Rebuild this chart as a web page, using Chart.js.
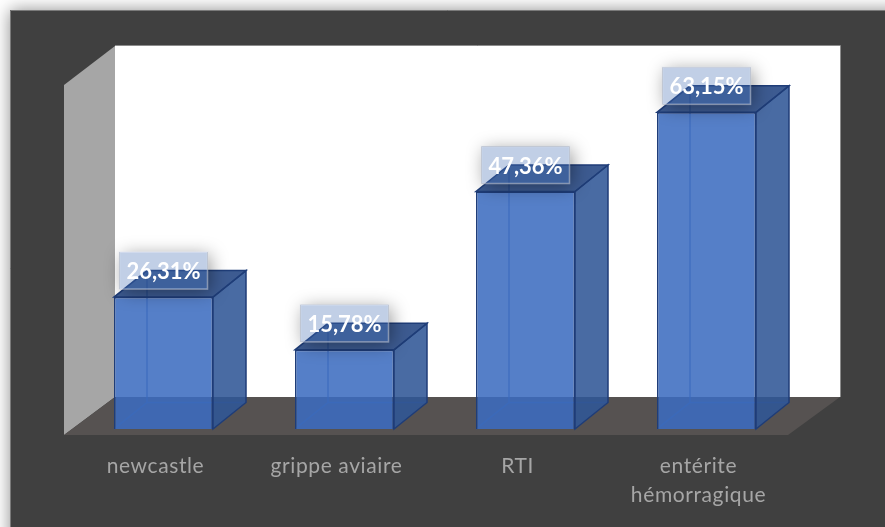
<!DOCTYPE html>
<html>
<head>
<meta charset="utf-8">
<title>Chart</title>
<style>
  html, body { margin: 0; padding: 0; background: #ffffff; overflow: hidden; }
  canvas { display: block; filter: blur(0.5px); }
</style>
</head>
<body>
<canvas id="chart" width="885" height="527"></canvas>
<script src="https://cdn.jsdelivr.net/npm/chart.js@4/dist/chart.umd.min.js"></script>
<script>
const categories = ['newcastle', 'grippe aviaire', 'RTI', ['entérite', 'hémorragique']];
const values = [26.31, 15.78, 47.36, 63.15];
const valueLabels = ['26,31%', '15,78%', '47,36%', '63,15%'];

// depth of the fake 3D
const depthX = 33;
const depthY = 26.5;

function polygon(ctx, pts, fill, stroke, lineWidth) {
  ctx.beginPath();
  pts.forEach((p, i) => i ? ctx.lineTo(p[0], p[1]) : ctx.moveTo(p[0], p[1]));
  ctx.closePath();
  if (fill) { ctx.fillStyle = fill; ctx.fill(); }
  if (stroke) { ctx.strokeStyle = stroke; ctx.lineWidth = lineWidth || 1; ctx.stroke(); }
}

// panel, walls and floor
const backdrop = {
  id: 'backdrop',
  beforeDraw(chart) {
    const ctx = chart.ctx;
    const a = chart.chartArea;
    ctx.save();
    ctx.fillStyle = '#ffffff';
    ctx.fillRect(0, 0, chart.width, chart.height);
    ctx.shadowColor = 'rgba(0,0,0,0.45)';
    ctx.shadowBlur = 16;
    ctx.fillStyle = '#404040';
    ctx.fillRect(10, 10, chart.width + 40, chart.height + 40);
    ctx.restore();

    ctx.save();
    ctx.strokeStyle = '#7a7a7a';
    ctx.lineWidth = 1;
    ctx.beginPath();
    ctx.moveTo(10.5, chart.height);
    ctx.lineTo(10.5, 10.5);
    ctx.lineTo(chart.width, 10.5);
    ctx.stroke();

    const wallL = a.left + 42, wallR = a.right + 43;
    const wallT = a.top - 32, wallB = a.bottom - 32;
    const frontL = a.left - 9, frontR = a.right - 9, frontB = a.bottom + 6;

    ctx.fillStyle = '#ffffff';
    ctx.fillRect(wallL, wallT, wallR - wallL, wallB - wallT);
    ctx.strokeStyle = '#8c8c8c';
    ctx.beginPath();
    ctx.moveTo(wallL, wallT - 0.5);
    ctx.lineTo(wallR + 0.5, wallT - 0.5);
    ctx.lineTo(wallR + 0.5, wallB);
    ctx.stroke();

    polygon(ctx, [[frontL, wallT + 39], [wallL, wallT], [wallL, wallB], [frontL, frontB]], '#a6a6a6');
    polygon(ctx, [[wallL, wallB], [wallR, wallB], [frontR, frontB], [frontL, frontB]], '#565251');
    ctx.restore();

    // axis labels are spaced out a little in the original
    ctx.letterSpacing = '0.6px';
  }
};

// back edges, seen through the front face
const barBack = {
  id: 'barBack',
  beforeDatasetsDraw(chart) {
    const ctx = chart.ctx;
    ctx.save();
    chart.getDatasetMeta(0).data.forEach(bar => {
      const l = bar.x - bar.width / 2, r = bar.x + bar.width / 2;
      const t = bar.y, b = bar.base;
      polygon(ctx, [[l, b], [r, b], [r + depthX, b - depthY], [l + depthX, b - depthY]], 'rgba(47,85,151,0.08)');
      ctx.strokeStyle = 'rgba(47,90,165,0.75)';
      ctx.lineWidth = 1.5;
      ctx.beginPath();
      ctx.moveTo(l + depthX, t - depthY);
      ctx.lineTo(l + depthX, b - depthY);
      ctx.lineTo(r + depthX, b - depthY);
      ctx.moveTo(l, b);
      ctx.lineTo(l + depthX, b - depthY);
      ctx.stroke();
    });
    ctx.restore();
  }
};

// side and top faces plus the value boxes
const barFaces = {
  id: 'barFaces',
  afterDatasetsDraw(chart) {
    const ctx = chart.ctx;
    const bars = chart.getDatasetMeta(0).data;
    ctx.save();
    ctx.letterSpacing = '0px';
    bars.forEach(bar => {
      const l = bar.x - bar.width / 2, r = bar.x + bar.width / 2;
      const t = bar.y, b = bar.base;
      polygon(ctx, [[r, t], [r + depthX, t - depthY], [r + depthX, b - depthY], [r, b]],
        'rgba(48,86,150,0.88)', '#1f3d78', 1.5);
      polygon(ctx, [[l, t], [r, t], [r + depthX, t - depthY], [l + depthX, t - depthY]],
        'rgba(34,68,130,0.88)', '#1f3d78', 1.5);
    });
    bars.forEach((bar, i) => {
      const boxW = 88, boxH = 37;
      const x = bar.x - boxW / 2, y = bar.y - 45;
      // soft shadow only outside the box, the box itself is see-through
      ctx.save();
      ctx.beginPath();
      ctx.rect(0, 0, chart.width, chart.height);
      ctx.rect(x, y, boxW, boxH);
      ctx.clip('evenodd');
      ctx.shadowColor = 'rgba(0,0,0,0.4)';
      ctx.shadowBlur = 18;
      ctx.shadowOffsetX = 3;
      ctx.shadowOffsetY = 3;
      ctx.fillStyle = '#000000';
      ctx.fillRect(x, y, boxW, boxH);
      ctx.restore();
      ctx.fillStyle = 'rgba(68,108,180,0.33)';
      ctx.fillRect(x, y, boxW, boxH);
      ctx.strokeStyle = 'rgba(225,232,245,0.5)';
      ctx.lineWidth = 1.5;
      ctx.strokeRect(x, y, boxW, boxH);
      ctx.font = 'bold 22px Lato';
      ctx.fillStyle = '#ffffff';
      ctx.textAlign = 'center';
      ctx.textBaseline = 'middle';
      ctx.fillText(valueLabels[i], bar.x, bar.y - 25);
    });
    ctx.restore();
  }
};

new Chart(document.getElementById('chart'), {
  type: 'bar',
  data: {
    labels: categories,
    datasets: [{
      data: values,
      backgroundColor: 'rgba(60,108,192,0.87)',
      borderColor: '#1f3d78',
      borderWidth: 1.5,
      barPercentage: 1,
      categoryPercentage: 0.547
    }]
  },
  options: {
    responsive: false,
    animation: false,
    layout: { padding: { left: 73, right: 88, top: 78, bottom: 0 } },
    plugins: { legend: { display: false }, tooltip: { enabled: false }, title: { display: false } },
    scales: {
      y: { display: false, min: 0, max: 70 },
      x: {
        afterFit(scale) { scale.height = 98; },
        grid: { display: false, drawTicks: false },
        border: { display: false },
        ticks: {
          color: '#a6a6a6',
          maxRotation: 0,
          autoSkip: false,
          padding: 23,
          labelOffset: -8,
          font: { family: 'Lato', size: 21, lineHeight: 1.38 }
        }
      }
    }
  },
  plugins: [backdrop, barBack, barFaces]
});
</script>
</body>
</html>
